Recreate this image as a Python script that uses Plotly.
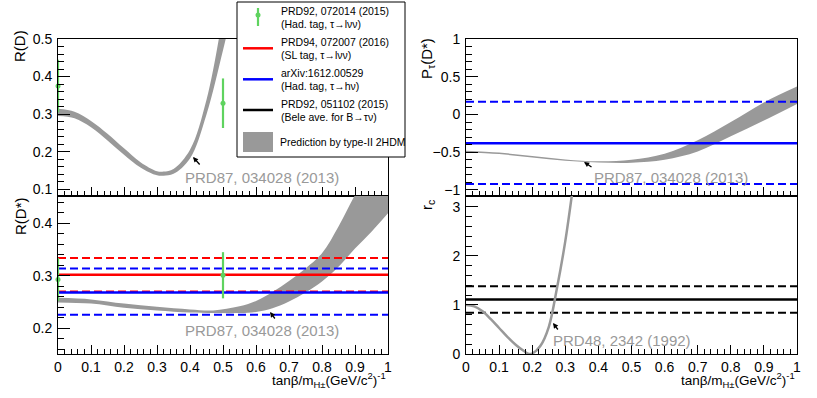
import plotly.graph_objects as go

W, H = 817, 398
FONT = "Liberation Sans, Arial, sans-serif"
GREEN = "#5fd35f"
RED = "#ff0000"
BLUE = "#0000ff"
GRAY = "#999999"

# R(D): type-II 2HDM band
RD_X = [0, 0.05, 0.1, 0.15, 0.2, 0.25, 0.3, 0.32, 0.35, 0.4, 0.45, 0.5, 0.52]
RD_LO = [0.295, 0.289, 0.265, 0.230, 0.192, 0.158, 0.137, 0.136, 0.141, 0.182, 0.299, 0.470, 0.545]
RD_HI = [0.314, 0.306, 0.282, 0.248, 0.209, 0.172, 0.148, 0.147, 0.154, 0.205, 0.338, 0.565, 0.680]

# R(D*): type-II 2HDM band
RDST_X = [0, 0.1, 0.2, 0.3, 0.4, 0.47, 0.55, 0.6, 0.65, 0.7, 0.75, 0.8, 0.85, 0.9, 0.95, 1.0]
RDST_LO = [0.249, 0.247, 0.239, 0.234, 0.230, 0.229, 0.229, 0.231, 0.238, 0.251, 0.268, 0.289, 0.317, 0.352, 0.384, 0.419]
RDST_HI = [0.258, 0.255, 0.247, 0.241, 0.236, 0.234, 0.242, 0.252, 0.269, 0.290, 0.314, 0.343, 0.394, 0.454, 0.510, 0.570]

# P_tau(D*): type-II 2HDM band
PT_X = [0, 0.1, 0.2, 0.3, 0.4, 0.5, 0.6, 0.7, 0.8, 0.9, 1.0]
PT_LO = [-0.500, -0.525, -0.570, -0.614, -0.635, -0.640, -0.600, -0.490, -0.290, -0.080, 0.140]
PT_HI = [-0.480, -0.505, -0.550, -0.595, -0.620, -0.600, -0.520, -0.340, -0.100, 0.160, 0.370]

# r_c curve (PRD48, 2342)
RC_X = [0, 0.025, 0.05, 0.075, 0.1, 0.125, 0.15, 0.175, 0.19, 0.2, 0.225, 0.25, 0.275, 0.3, 0.325]
RC_Y = [1.0, 0.97, 0.87, 0.71, 0.53, 0.35, 0.19, 0.06, 0.0, 0.01, 0.17, 0.55, 1.35, 2.3, 3.5]

# Belle hadronic tag 2015 (green points)
HAD_X = [0, 0.5]
HAD_RD = [0.375, 0.329]
HAD_RD_ERR = [0.070, 0.066]
HAD_RDST = [0.293, 0.301]
HAD_RDST_ERR = [0.041, 0.044]

# horizontal measurements: (central, upper, lower)
SL_RDST = (0.302, 0.334, 0.270)
HAD16_RDST = (0.268, 0.314, 0.226)
HAD16_PT = (-0.38, 0.17, -0.92)
BTAUNU_RC = (1.11, 1.38, 0.84)


def px(x):
    return x / W


def py(y):
    return 1 - y / H


fig = go.Figure()


def hline(xa, ya, y, color, dash="solid", width=2):
    fig.add_trace(go.Scatter(
        x=[0, 1], y=[y, y], xaxis=xa, yaxis=ya, mode="lines",
        line={"color": color, "width": width, "dash": dash},
        showlegend=False, hoverinfo="skip",
    ))


def band(xa, ya, xs, lo, hi):
    fig.add_trace(go.Scatter(
        x=xs, y=lo, xaxis=xa, yaxis=ya, mode="lines",
        line={"width": 0, "shape": "spline", "color": GRAY},
        showlegend=False, hoverinfo="skip",
    ))
    fig.add_trace(go.Scatter(
        x=xs, y=hi, xaxis=xa, yaxis=ya, mode="lines", fill="tonexty",
        fillcolor=GRAY, line={"width": 0, "shape": "spline", "color": GRAY},
        showlegend=False, hoverinfo="skip",
    ))


def points(xa, ya, ys, errs):
    fig.add_trace(go.Scatter(
        x=HAD_X, y=ys, xaxis=xa, yaxis=ya, mode="markers",
        marker={"color": GREEN, "size": 5},
        error_y={"type": "data", "array": errs, "color": GREEN, "thickness": 2.2, "width": 0},
        cliponaxis=False, showlegend=False, hoverinfo="skip",
    ))


DASH = "8px,4px"

# top-left: R(D)
band("x", "y", RD_X, RD_LO, RD_HI)
points("x", "y", HAD_RD, HAD_RD_ERR)

# bottom-left: R(D*)
band("x2", "y2", RDST_X, RDST_LO, RDST_HI)
hline("x2", "y2", SL_RDST[1], RED, DASH)
hline("x2", "y2", SL_RDST[2], RED, DASH)
hline("x2", "y2", HAD16_RDST[1], BLUE, DASH)
hline("x2", "y2", HAD16_RDST[2], BLUE, DASH)
hline("x2", "y2", SL_RDST[0], RED, width=2.5)
hline("x2", "y2", HAD16_RDST[0], BLUE, width=2.5)
points("x2", "y2", HAD_RDST, HAD_RDST_ERR)

# top-right: P_tau(D*)
band("x3", "y3", PT_X, PT_LO, PT_HI)
hline("x3", "y3", HAD16_PT[1], BLUE, DASH)
hline("x3", "y3", HAD16_PT[2], BLUE, DASH)
hline("x3", "y3", HAD16_PT[0], BLUE, width=2.5)

# bottom-right: r_c
hline("x4", "y4", BTAUNU_RC[1], "black", DASH)
hline("x4", "y4", BTAUNU_RC[2], "black", DASH)
hline("x4", "y4", BTAUNU_RC[0], "black", width=2.5)
fig.add_trace(go.Scatter(
    x=RC_X, y=RC_Y, xaxis="x4", yaxis="y4", mode="lines",
    line={"color": GRAY, "width": 2.5, "shape": "spline"},
    showlegend=False, hoverinfo="skip",
))

L_DOM = [px(58), px(388)]
R_DOM = [px(466), px(797)]
TOP_DOM = [py(196), py(39)]
BOT_DOM = [py(354), py(196)]

tickfont = {"size": 14, "color": "black", "family": FONT}


def xax(domain, anchor, labels):
    return dict(
        domain=domain, anchor=anchor, range=[0, 1], tick0=0, dtick=0.1,
        ticks="inside", ticklen=9, tickcolor="black", tickwidth=1,
        minor={"ticks": "inside", "ticklen": 5, "dtick": 0.02, "tickcolor": "black"},
        showline=True, linecolor="black", linewidth=1, mirror=True,
        showgrid=False, zeroline=False, showticklabels=labels, tickfont=tickfont,
        automargin=False,
    )


def yax(domain, anchor, rng, dtick, minor):
    return dict(
        domain=domain, anchor=anchor, range=rng, tick0=0, dtick=dtick,
        ticks="inside", ticklen=12, tickcolor="black", tickwidth=1,
        minor={"ticks": "inside", "ticklen": 6, "dtick": minor, "tickcolor": "black"},
        showline=True, linecolor="black", linewidth=1, mirror=True,
        showgrid=False, zeroline=False, tickfont=tickfont, ticklabelstandoff=2,
        automargin=False,
    )


annotations = []


def text(x, y, s, size=15, color="black", xanchor="left", angle=0, yanchor="middle"):
    annotations.append(dict(
        x=px(x), y=py(y), xref="paper", yref="paper", text=s, showarrow=False,
        xanchor=xanchor, yanchor=yanchor, textangle=angle,
        font={"size": size, "color": color, "family": FONT},
    ))


def arrow(hx, hy, dx, dy):
    annotations.append(dict(
        x=px(hx), y=py(hy), xref="paper", yref="paper", text="", showarrow=True,
        ax=dx, ay=dy, arrowhead=2, arrowsize=0.8, arrowwidth=1.3, arrowcolor="black",
    ))


# axis titles
text(20, 46, "R(D)", angle=-90, xanchor="center")
text(20, 216, "R(D*)", angle=-90, xanchor="center")
text(428, 58, "P<sub>τ</sub>(D*)", angle=-90, xanchor="center")
text(428, 205, "r<sub>c</sub>", angle=-90, xanchor="center")
XT = "tanβ/m<sub>H±</sub>(GeV/c<sup>2</sup>)<sup>-1</sup>"
text(388, 380, XT, size=13.5, xanchor="right")
text(797, 380, XT, size=13.5, xanchor="right")

# reference labels
text(183, 177, "PRD87, 034028 (2013)", color=GRAY)
arrow(193, 157, 8, 9)
text(183, 330, "PRD87, 034028 (2013)", color=GRAY)
arrow(270, 312, 6, 8)
text(592, 177, "PRD87, 034028 (2013)", color=GRAY)
arrow(584, 162, 9, 6)
text(551, 340, "PRD48, 2342 (1992)", color=GRAY)
arrow(553, 323, 6, 8)

# legend
shapes = [dict(type="rect", xref="paper", yref="paper",
               x0=px(237), x1=px(405), y0=py(157), y1=py(2),
               fillcolor="white", line={"color": "black", "width": 1}, layer="above")]
shapes.append(dict(type="line", xref="paper", yref="paper", x0=px(258), x1=px(258),
                   y0=py(26), y1=py(8), line={"color": GREEN, "width": 2.2}, layer="above"))
shapes.append(dict(type="circle", xref="paper", yref="paper", x0=px(255.5), x1=px(260.5),
                   y0=py(17.5), y1=py(12.5), fillcolor=GREEN, line={"width": 0}, layer="above"))
for yy, col in [(48.3, RED), (79.3, BLUE), (110, "black")]:
    shapes.append(dict(type="line", xref="paper", yref="paper", x0=px(243), x1=px(273),
                       y0=py(yy), y1=py(yy), line={"color": col, "width": 2.5}, layer="above"))
shapes.append(dict(type="rect", xref="paper", yref="paper", x0=px(243), x1=px(273),
                   y0=py(152), y1=py(132), fillcolor=GRAY, line={"width": 0}, layer="above"))

LEG = 10.5
text(279, 11, "PRD92, 072014 (2015)", size=LEG)
text(279, 24, "(Had. tag, τ→lνν)", size=LEG)
text(279, 42, "PRD94, 072007 (2016)", size=LEG)
text(279, 55, "(SL tag, τ→lνν)", size=LEG)
text(279, 73, "arXiv:1612.00529", size=LEG)
text(279, 86, "(Had. tag, τ→hν)", size=LEG)
text(279, 104, "PRD92, 051102 (2015)", size=LEG)
text(279, 117, "(Bele ave. for B→τν)", size=LEG)
text(278, 142, "Prediction by type-II 2HDM", size=LEG)

fig.update_layout(
    width=W, height=H,
    margin={"l": 0, "r": 0, "t": 0, "b": 0},
    paper_bgcolor="white", plot_bgcolor="white",
    font={"family": FONT, "color": "black"},
    showlegend=False,
    xaxis=xax(L_DOM, "y", False),
    yaxis=yax(TOP_DOM, "x", [0.082, 0.5], 0.1, 0.02),
    xaxis2=xax(L_DOM, "y2", True),
    yaxis2=yax(BOT_DOM, "x2", [0.151, 0.452], 0.1, 0.02),
    xaxis3=xax(R_DOM, "y3", False),
    yaxis3=yax(TOP_DOM, "x3", [-1.08, 1.0], 0.5, 0.1),
    xaxis4=xax(R_DOM, "y4", True),
    yaxis4=yax(BOT_DOM, "x4", [0, 3.22], 1, 0.2),
    annotations=annotations,
    shapes=shapes,
)

# the page's default body margin would shift the fixed-size figure
fig.write_html("out.html", config={"displayModeBar": False},
               post_script="document.body.style.margin = '0';")
